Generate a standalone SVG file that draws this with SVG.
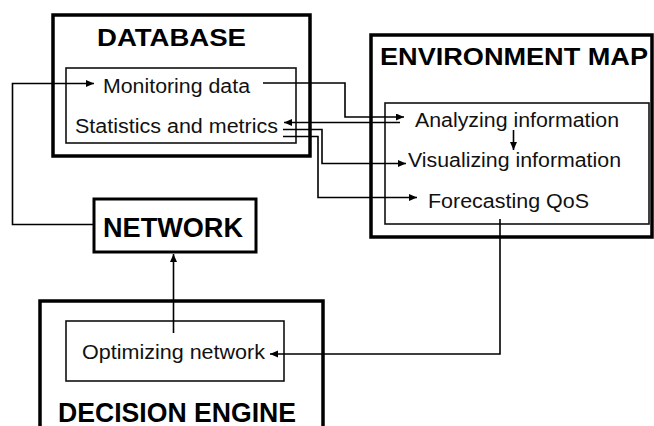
<svg xmlns="http://www.w3.org/2000/svg" width="654" height="426" viewBox="0 0 654 426">
<style>
.outer{fill:none;stroke:#000;stroke-width:3.5}
.inner{fill:none;stroke:#111;stroke-width:1.6}
.net{fill:#fff;stroke:#000;stroke-width:3}
.t{font-family:"Liberation Sans",Arial,sans-serif;font-size:19.5px;fill:#111}
.b{font-family:"Liberation Sans",Arial,sans-serif;font-weight:bold;fill:#000}
.c{fill:none;stroke:#000;stroke-width:1.6}
</style>
<defs>
<marker id="ah" markerUnits="userSpaceOnUse" markerWidth="10" markerHeight="8" refX="8" refY="3.5" orient="auto">
<path d="M0,0 L8,3.5 L0,7 Z" fill="#000"/>
</marker>
</defs>
<rect width="654" height="426" fill="#fff"/>
<g id="database">
<rect class="outer" x="53" y="15" width="257" height="141"/>
<text class="b" x="97" y="46" font-size="24.5" textLength="149" lengthAdjust="spacingAndGlyphs">DATABASE</text>
<rect class="inner" x="66" y="68" width="230" height="75"/>
<text class="t" x="103" y="93" textLength="147" lengthAdjust="spacingAndGlyphs">Monitoring data</text>
<text class="t" x="75" y="133" textLength="203" lengthAdjust="spacingAndGlyphs">Statistics and metrics</text>
</g>
<g id="environment-map">
<rect class="outer" x="371" y="35" width="281" height="202"/>
<text class="b" x="380" y="65" font-size="23.5" textLength="268" lengthAdjust="spacingAndGlyphs">ENVIRONMENT MAP</text>
<rect class="inner" x="385" y="103" width="264" height="121"/>
<text class="t" x="415" y="127" textLength="204" lengthAdjust="spacingAndGlyphs">Analyzing information</text>
<text class="t" x="408" y="167" textLength="213" lengthAdjust="spacingAndGlyphs">Visualizing information</text>
<text class="t" x="428" y="207.5" textLength="161" lengthAdjust="spacingAndGlyphs">Forecasting QoS</text>
</g>
<g id="network">
<rect class="net" x="94" y="199" width="162" height="53"/>
<text class="b" x="103" y="237" font-size="27" textLength="140" lengthAdjust="spacingAndGlyphs">NETWORK</text>
</g>
<g id="decision-engine">
<rect class="outer" x="40" y="301" width="283" height="150"/>
<rect class="inner" x="66" y="321" width="218" height="60"/>
<text class="t" x="82" y="358.5" textLength="183" lengthAdjust="spacingAndGlyphs">Optimizing network</text>
<text class="b" x="58" y="422" font-size="27.5" textLength="238" lengthAdjust="spacingAndGlyphs">DECISION ENGINE</text>
</g>
<g id="connectors">
<path class="c" d="M94,224.5 H12.5 V83.5 H94" marker-end="url(#ah)"/>
<path class="c" d="M263,83 H345 V117 H404" marker-end="url(#ah)"/>
<path class="c" d="M400,122.5 H284" marker-end="url(#ah)"/>
<path class="c" d="M283,129.5 H322 V163.5 H406" marker-end="url(#ah)"/>
<path class="c" d="M283,136.5 H318 V197.5 H417" marker-end="url(#ah)"/>
<path class="c" d="M513.5,130 V150" marker-end="url(#ah)"/>
<path class="c" d="M500,219 V354 H270" marker-end="url(#ah)"/>
<path class="c" d="M173.5,333 V254" marker-end="url(#ah)"/>
</g>
</svg>
